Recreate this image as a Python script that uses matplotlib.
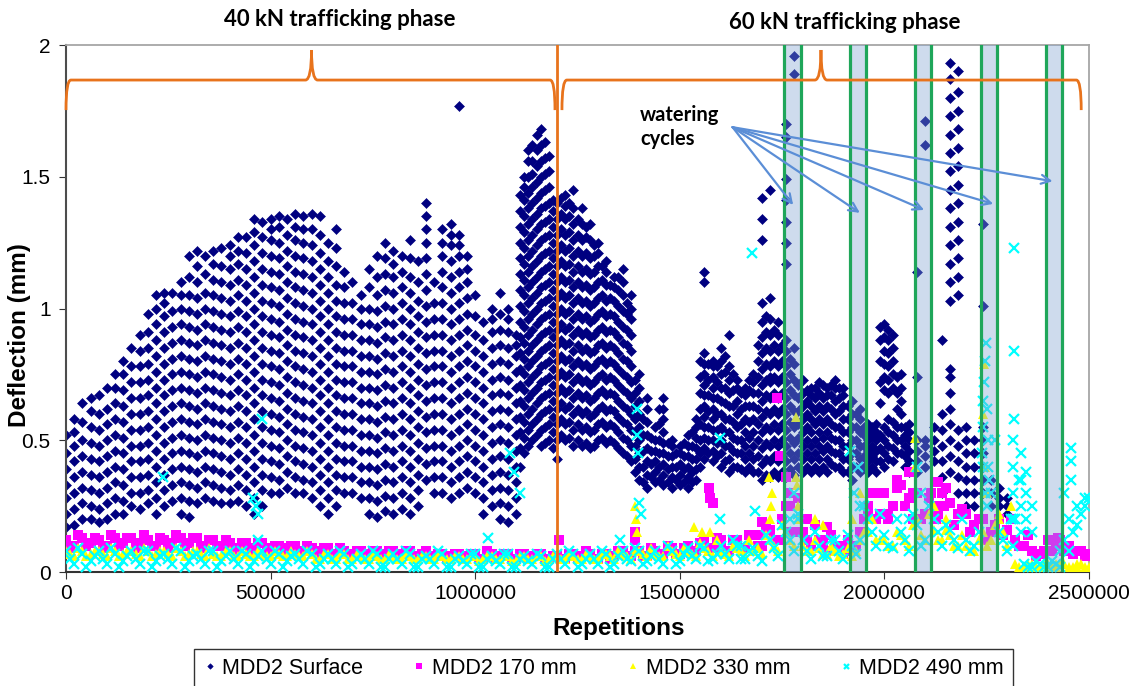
import numpy as np
import matplotlib
matplotlib.use("Agg")
import matplotlib.pyplot as plt
from matplotlib.path import Path
from matplotlib.patches import PathPatch

# repetitions in thousands, deflections in hundredths of a mm
surface_x = list(range(0, 2320, 20))
surface_cols = [
    [17,22,28,33,39,45,52],
    [18,24,30,36,42,48,53,58],
    [20,26,32,38,44,50,57,64],
    [20,25,31,37,43,49,55,61,66],
    [19,24,30,36,42,48,54,60,67],
    [20,26,32,38,44,50,56,62,70],
    [22,28,34,40,46,52,58,64,70,75],
    [22,27,33,39,45,51,57,63,69,75,80],
    [25,30,36,42,48,54,60,66,72,78,85],
    [24,30,36,42,48,54,60,66,72,78,84,90],
    [26,31,37,43,49,55,61,67,73,79,85,91,98],
    [22,28,34,40,46,52,58,64,70,76,82,88,94,100,105],
    [25,31,37,43,49,55,61,67,73,79,85,91,97,102,106],
    [27,33,39,45,51,57,63,69,75,81,87,93,99,106],
    [22,28,34,40,46,52,58,64,70,76,82,88,94,100,105,110],
    [21,27,33,39,45,51,57,63,69,75,81,87,93,99,105,112,120],
    [26,32,38,44,50,56,62,68,74,80,86,92,98,104,110,116,122],
    [28,34,40,46,52,58,64,70,76,82,88,94,100,106,113,120],
    [27,33,39,45,51,57,63,69,75,81,87,93,99,105,111,117,122],
    [26,32,38,44,50,56,62,68,74,80,86,92,98,104,110,116,123],
    [26,31,37,43,49,55,61,67,73,79,85,91,97,103,109,115,120,124],
    [27,33,39,45,51,57,63,69,75,81,87,93,99,105,111,117,122,127],
    [25,31,37,43,49,55,61,67,73,79,85,91,97,103,109,115,121,127],
    [22,28,34,40,46,52,58,64,70,76,82,88,94,100,106,112,118,124,129,134],
    [25,31,37,43,49,55,61,67,73,79,85,91,97,103,109,115,121,127,133],
    [30,36,42,48,54,60,66,72,78,84,90,96,102,108,114,120,126,130,134],
    [30,35,41,47,53,59,65,71,77,83,89,95,101,107,113,119,125,131,135],
    [32,38,44,50,56,62,68,74,80,86,92,98,104,110,116,122,128,134],
    [30,36,42,48,54,60,66,72,78,84,90,96,102,108,114,120,126,131,136],
    [30,35,41,47,53,59,65,71,77,83,89,95,101,107,113,119,125,130,135],
    [28,34,40,46,52,58,64,70,76,82,88,94,100,106,112,118,124,130,136],
    [25,31,37,43,49,55,61,67,73,79,85,91,97,103,109,115,121,128,135],
    [22,28,34,40,46,52,58,64,70,76,82,88,94,100,106,112,118,125],
    [25,31,37,43,49,55,61,67,73,79,85,91,97,103,109,116,123,130],
    [30,36,42,48,54,60,66,72,78,84,90,96,102,108,114],
    [30,36,42,48,54,60,66,72,78,84,90,96,102,110],
    [28,34,40,46,52,58,64,70,76,82,88,94,100,105],
    [22,28,34,40,46,52,58,64,70,76,82,88,94,100,108,115],
    [21,27,33,39,45,51,57,63,69,75,81,87,93,99,105,112,120],
    [23,29,35,41,47,53,59,65,71,77,83,89,95,101,107,113,119,125],
    [22,28,34,40,46,52,58,64,70,76,82,88,94,100,106,112,117,122],
    [24,30,36,42,48,54,60,66,72,78,84,90,96,102,108,114,120],
    [22,28,34,40,46,52,58,64,70,76,82,88,94,100,106,112,119,126],
    [25,31,37,43,49,55,61,67,73,79,85,91,97,103,110,118],
    [35,41,47,53,59,65,71,77,83,89,95,101,107,113,119,125,130,135,140],
    [30,36,42,48,54,60,66,72,78,84,90,96,102,110],
    [30,36,42,48,54,60,66,72,78,84,90,96,102,108,114,120,125,130],
    [28,34,40,46,52,58,64,70,76,82,88,94,100,106,112,118,124,128,132],
    [30,36,42,48,54,60,66,72,78,84,90,96,102,108,114,120,124,128,177],
    [32,38,44,50,56,62,68,74,80,86,92,98,104,110,115,120],
    [30,36,42,48,54,60,66,72,78,84,90,97,105],
    [22,28,34,40,46,52,58,64,70,76,82,88,95],
    [25,31,37,43,49,55,61,67,73,79,85,91,96,100],
    [20,26,32,38,44,50,56,62,68,74,80,86,92,98,106],
    [19,25,31,37,43,49,55,61,67,73,79,85,91,96,100],
    [22,28,34,40,46,52,58,64,70,76,82,86,90],
    [45,51,57,63,69,75,81,87,93,99,105,111,117,123,129,135,141,146,150],
    [50,56,62,68,74,80,86,92,98,104,110,116,122,128,134,140,146,151,156,162],
    [48,54,60,66,72,78,84,90,96,102,108,114,120,126,132,138,144,150,156,162,168],
    [50,56,62,68,74,80,86,92,98,104,110,116,122,128,134,140,146,152,158],
    [43,50,56,62,68,74,80,86,92,98,104,110,116,122,128,134,140],
    [50,56,62,68,74,80,86,92,98,104,110,116,122,128,134,139,143],
    [48,54,60,66,72,78,84,90,96,102,108,114,120,126,132,138,145],
    [48,54,60,66,72,78,84,90,96,102,108,114,120,126,132,138],
    [47,53,59,65,71,77,83,89,95,101,107,113,119,126,132],
    [50,56,62,68,74,80,86,92,98,104,110,116,121,125],
    [49,55,61,67,73,79,85,91,97,103,109,114,118],
    [49,55,61,67,73,79,85,91,97,103,108,112],
    [45,51,57,63,69,75,81,87,93,99,105,110,115],
    [42,48,54,60,66,72,78,84,90,96,100,105],
    [35,40,45,50,55,60,65,70,75],
    [32,37,42,47,52,57,62,66],
    [34,38,42,46,50,55],
    [33,37,41,45,49,53,58,62,66],
    [32,36,40,44,48,50],
    [33,37,41,45,48],
    [32,36,40,44,48,52],
    [35,39,43,47,51,55,58],
    [43,47,51,55,59,63,67,71,75,79,83,110,114],
    [42,46,50,54,58,62,66,70,74,78,80],
    [40,45,50,55,60,65,70,75,80,85],
    [38,43,48,53,58,63,68,73,78,90],
    [40,45,50,55,60,65,70,73],
    [38,43,48,53,58,63,67,70],
    [38,43,48,53,58,63,68,72,75],
    [35,41,47,53,59,65,71,77,83,89,95,102,126,134,142],
    [36,42,48,54,60,66,72,74,78,84,90,96,104,145],
    [36,42,48,54,60,66,72,78,84,90,95],
    [36,42,48,54,60,66,72,78,84,88,117,125,133,141,149,165,170],
    [37,43,49,55,61,67,73,79,85,189,196],
    [38,43,48,53,58,63,68,73],
    [38,43,48,53,58,63,67,70],
    [38,43,48,53,58,63,68,72],
    [38,43,48,53,58,63,67,70],
    [40,45,50,55,60,65,70,73],
    [38,43,48,53,58,63,67,70],
    [35,40,45,50,55,60,65],
    [38,43,48,53,58,62],
    [38,42,46,50,53,56],
    [38,42,46,50,53,56],
    [40,45,50,55,69,74,79,84,89,94],
    [42,47,52,57,70,75,80,85,90],
    [45,50,55,60,65,70,75],
    [38,42,46,50,53,56],
    [38,42,46,50,74,114],
    [40,44,48,50,162,171],
    [42,46,50,55],
    [30,36,42,48,54,60,88],
    [38,44,50,56,62,68,74,77,103,110,117,124,131,138,145,152,159,166,173,180,187,193],
    [30,36,42,48,54,105,112,119,126,133,140,147,154,161,168,175,182,190],
    [25,30,35,40,45,50,55],
    [25,30,35,40,45,50],
    [30,35,40,45,50,55,101,132],
    [25,30,35],
    [25,28,32],
    [22,25,28],
]

# extra surface readings in the densest stretch (60 kN phase)
surface_x2 = list(range(1110, 2070, 20))
surface_cols2 = [
    [40,47,53,59,65,71,77,83,89,95,101,107,113,119,125,131,137,143],
    [48,54,60,66,72,78,84,90,96,102,108,114,120,126,132,138,144,150,156,160],
    [52,58,64,70,76,82,88,94,100,106,112,118,124,130,136,142,148,154,160,166],
    [49,55,61,67,73,79,85,91,97,103,109,115,121,127,133,139,145,151,157,163],
    [47,53,59,65,71,77,83,89,95,101,107,113,119,125,131,137,141],
    [52,58,64,70,76,82,88,94,100,106,112,118,124,130,136,142],
    [51,57,63,69,75,81,87,93,99,105,111,117,123,129,135,140],
    [50,56,62,68,74,80,86,92,98,104,110,116,122,128,134],
    [49,55,61,67,73,79,85,91,97,103,109,115,121,127,131],
    [48,54,60,66,72,78,84,90,96,102,108,114,120,124],
    [51,57,63,69,75,81,87,93,99,105,111,116],
    [50,56,62,68,74,80,86,92,98,104,109],
    [47,53,59,65,71,77,83,89,95,101,107,112],
    [44,50,56,62,68,74,80,86,92,98,102],
    [38,43,48,53,58,63,68,73],
    [34,40,46,52,58],
    [36,41,46,51],
    [35,40,45,50,56,62],
    [34,39,44,49],
    [35,40,45],
    [34,39,44,49],
    [34,38,43,48,53],
    [40,45,50,56,62,68,74,80],
    [45,50,55,61,67,73,79],
    [44,49,54,60,66,72,78],
    [42,48,53,58,64,70,76,82],
    [40,46,51,57,63,69,75],
    [39,45,50,56,62,68],
    [40,45,51,57,63,69,73],
    [38,44,50,56,62,68,74,80,86],
    [37,43,49,55,61,67,73,79,85,91,97],
    [38,44,50,56,62,68,74,80,86,92],
    [38,44,50,56,62,68,74,80,86],
    [39,45,51,57,63,69,75,81],
    [40,45,51,56,61,66,71],
    [40,45,50,55,60,65,69],
    [40,45,50,56,61,66,70],
    [40,46,51,56,61,66,71],
    [41,46,51,56,62,67,71],
    [40,45,50,55,61,66,70],
    [38,43,48,53,58,63],
    [40,45,50,55,60],
    [40,44,48,52,55],
    [40,44,48,52,55],
    [42,47,52,64,72,80,88,93],
    [43,48,53,58,68,73,78,83,88,92],
    [45,50,55,62,68,74],
    [40,44,48,52,55],
]

# buried gauges: readings every 20k (a) and in between (b)
depth_xa = list(range(0, 2520, 20))
depth_xb = list(range(10, 2500, 20))
mdd170_a = [12,10,13,11,12,10,13,11,13,11, 12,10,12,11,13,11,13,10,12,10,
            11,9,11,9,11,9,10,9,10,8, 9,8,9,7,8,7,8,7,8,7,
            8,7,8,6,8,6,7,6,7,6, 7,5,7,6,7,5,7,6,7,5,
            6,5,7,6,7,5,7,6,8,6, 8,6,8,7,9,7,10,8,12,9,
            10,8,12,9,14,10,16,12,25,15, 15,10,12,8,10,7,8,15,25,20,
            30,25,33,28,30,22,25,30,26,22, 22,18,20,15,20,16,12,10,8,7,
            12,10,8,7,8,7]
mdd170_b = [9,14,10,13,9,14,10,13,9,14, 10,13,9,14,10,13,9,12,10,12,
            8,11,8,11,8,10,8,10,7,10, 7,9,7,9,7,8,6,8,6,8,
            6,8,6,7,6,7,5,7,5,7, 5,7,5,7,5,7,5,7,5,6,
            5,7,5,8,5,7,5,8,6,8, 6,9,6,10,7,9,8,11,9,13,
            8,12,9,14,10,18,12,20,15,28, 12,18,10,14,8,12,10,20,30,22,
            22,32,25,30,20,28,22,32,18,24, 15,20,12,18,14,20,10,14,6,8,
            8,12,10,8,6]
mdd330_a = [8,6,8,7,8,6,8,7,8,6, 8,7,8,6,8,7,8,6,7,6,
            8,6,7,6,7,6,7,6,7,6, 7,5,7,5,7,5,6,5,6,5,
            6,5,6,5,6,5,6,5,6,5, 6,5,6,5,6,4,6,5,6,5,
            6,5,6,5,6,5,7,5,7,5, 8,6,7,6,8,6,8,6,9,6,
            8,6,9,6,8,7,12,8,15,10, 10,8,9,7,8,7,6,12,15,12,
            12,10,14,10,20,12,16,12,14,10, 10,8,15,12,20,10,3,2,3,2,
            3,2,3,2,3,2]
mdd330_b = [7,9,6,8,7,9,6,8,7,9, 6,8,7,9,6,8,7,9,6,8,
            6,8,6,8,6,8,6,8,6,8, 5,7,5,7,5,7,5,7,5,7,
            5,7,5,6,5,7,5,6,5,6, 4,6,5,6,4,6,5,6,4,6,
            5,7,5,7,5,7,6,8,6,8, 7,9,6,10,7,9,7,11,8,12,
            7,10,8,12,9,14,10,18,12,20, 8,12,7,10,6,9,8,15,20,12,
            10,15,12,18,14,22,12,16,10,14, 8,12,10,18,15,25,2,3,2,3,
            2,3,2,3,2]
mdd490_a = [8,3,7,4,8,3,7,4,8,3, 8,4,7,3,8,4,7,3,8,4,
            8,3,7,4,8,3,7,4,7,3, 7,3,7,3,7,3,7,3,7,2,
            7,3,7,2,6,3,7,2,6,3, 7,2,6,3,7,2,6,3,6,2,
            7,3,7,3,7,3,7,3,8,4, 8,4,8,3,8,4,9,5,9,5,
            10,5,10,5,9,4,12,6,15,8, 12,5,10,6,12,5,10,12,20,10,
            14,9,15,8,18,12,20,10,16,9, 12,10,40,30,15,8,20,3,2,3,
            2,3,12,15,22,28]
mdd490_b = [5,9,2,6,5,9,2,6,5,8, 2,6,5,9,2,6,5,8,2,6,
            5,8,2,6,5,8,2,6,5,8, 2,5,5,8,2,5,5,8,2,5,
            5,8,2,5,5,8,2,5,4,7, 2,5,4,7,2,5,4,7,2,5,
            5,8,2,5,5,8,2,6,5,9, 3,6,5,10,3,7,6,10,4,7,
            7,12,5,8,6,14,9,18,12,20, 8,15,6,12,8,14,7,25,15,22,
            10,20,12,22,10,25,15,18,12,20, 8,15,25,50,12,20,35,2,4,2,
            4,2,8,18,25]

# isolated readings (x in thousands, y in hundredths)
mdd170_px = [1205,1030,1390,1390,1572,1575,1580,1600,1700,1702,1738,1745,1760,1765,1770,
             1810,1850,1860,1900,1960,1990,2010,2030,2050,2060,2070,2115,2125,2130,2145,2410,2425]
mdd170_py = [12,8,15,12,32,28,26,12,19,14,66,44,36,30,25,
             20,12,17,10,22,30,20,35,25,38,20,30,20,34,25,12,13]
mdd330_px = [1390,1392,1395,1535,1555,1575,1717,1720,1722,1725,1783,1785,1787,1790,1830,1850,
             1920,1940,2074,2076,2120,2150,2240,2243,2245,2250,2280,2350,2420,2470]
mdd330_py = [25,20,15,17,15,15,36,20,25,30,36,59,33,25,20,18,
             20,30,51,40,25,20,60,79,40,30,22,2,3,2]
mdd490_px = [237,457,465,470,470,479,1031,1085,1095,1110,1354,1396,1396,1398,1400,1405,1598,1598,
             1650,1677,1684,1770,1780,1790,1916,1925,1935,1940,2060,2080,2090,
             2238,2240,2242,2244,2246,2248,2250,2252,2254,2256,2245,2250,
             2315,2315,2315,2315,2315,2316,2317,2317,2335,2335,2335,2335,2345,2345,2345,2360,2360,
             2430,2440,2450,2455,2455,2455,2470,2490]
mdd490_py = [36,28,25,22,12,58,13,45,38,30,12,62,52,45,26,22,51,20,
             10,121,23,20,30,22,46,30,40,25,20,40,30,
             45,55,65,72,80,87,62,50,40,35,30,25,
             10,20,30,40,50,58,84,123,15,25,35,45,20,30,38,15,25,
             8,30,20,35,42,47,25,28]

assert len(surface_x) == len(surface_cols)
assert len(surface_x2) == len(surface_cols2)
assert len(depth_xa) == len(mdd170_a) == len(mdd330_a) == len(mdd490_a)
assert len(depth_xb) == len(mdd170_b) == len(mdd330_b) == len(mdd490_b)

band_starts = [1755000, 1915000, 2075000, 2235000, 2395000]
band_ends = [1795000, 1955000, 2115000, 2275000, 2435000]
phase_change = 1200000

sx, sy = [], []
for xs, cols in [(surface_x, surface_cols), (surface_x2, surface_cols2)]:
    for x, col in zip(xs, cols):
        for v in col:
            sx.append(x * 1000)
            sy.append(v / 100)


def series(a, b, px, py):
    x = np.r_[depth_xa, depth_xb, px] * 1000.0
    y = np.r_[a, b, py] / 100.0
    return x, y


plt.rcParams['font.family'] = ['Liberation Sans', 'DejaVu Sans']
fig = plt.figure(figsize=(11.35, 6.86), dpi=100)
ax = fig.add_axes([66 / 1135, 1 - 572 / 686, 1023 / 1135, 527 / 686])

ax.plot(sx, sy, 'D', color='#000080', ms=5.6, mew=0.4, ls='none', label='MDD2 Surface', zorder=2)
x, y = series(mdd170_a, mdd170_b, mdd170_px, mdd170_py)
ax.plot(x, y, 's', color='#ff00ff', ms=7.4, mew=0, ls='none', label='MDD2 170 mm', zorder=3)
x, y = series(mdd330_a, mdd330_b, mdd330_px, mdd330_py)
ax.plot(x, y, '^', color='#ffff00', ms=7.4, mew=0, ls='none', label='MDD2 330 mm', zorder=4)
x, y = series(mdd490_a, mdd490_b, mdd490_px, mdd490_py)
ax.plot(x, y, 'x', color='#00ffff', ms=7.2, mew=1.6, ls='none', label='MDD2 490 mm', zorder=5)

# watering cycles
for a, b in zip(band_starts, band_ends):
    ax.axvspan(a, b, color='#7fa2d2', alpha=0.38, lw=0, zorder=6)
    ax.axvline(a, color='#1fa65a', lw=2.3, zorder=7)
    ax.axvline(b, color='#1fa65a', lw=2.3, zorder=7)

ax.axvline(phase_change, color='#e8731c', lw=2, zorder=8)


def brace(x0, x1, xt, yl, ye, yt, dx, tw):
    verts = [(x0, ye), (x0, yl), (x0 + dx, yl), (xt - tw, yl), (xt, yl), (xt, yt),
             (xt, yl), (xt + tw, yl), (x1 - dx, yl), (x1, yl), (x1, ye)]
    codes = [Path.MOVETO, Path.CURVE3, Path.CURVE3, Path.LINETO, Path.CURVE3, Path.CURVE3,
             Path.CURVE3, Path.CURVE3, Path.LINETO, Path.CURVE3, Path.CURVE3]
    ax.add_patch(PathPatch(Path(verts, codes), fc='none', ec='#e8731c', lw=2,
                           clip_on=False, zorder=9))


brace(0, 1195000, 600000, 1.867, 1.753, 1.981, 12000, 15000)
brace(1212000, 2481000, 1845000, 1.867, 1.753, 1.981, 12000, 15000)

cal = ['Lato', 'DejaVu Sans']
ax.text(670000, 2.095, '40 kN trafficking phase', ha='center', va='center',
        fontsize=16, fontweight='bold', family=cal)
ax.text(1904000, 2.087, '60 kN trafficking phase', ha='center', va='center',
        fontsize=16, fontweight='bold', family=cal)
ax.text(1403000, 1.69, 'watering\ncycles', ha='left', va='center', linespacing=1.25,
        fontsize=14.5, fontweight='bold', family=cal, zorder=10)

tips = [(1777000, 1.393), (1940000, 1.363), (2097000, 1.374), (2266000, 1.397), (2411000, 1.483)]
for tx, ty in tips:
    ax.annotate('', xy=(tx, ty), xytext=(1629000, 1.688),
                arrowprops=dict(arrowstyle='->', color='#5b8ed6', lw=1.6,
                                mutation_scale=16, shrinkA=0, shrinkB=0), zorder=10)

ax.set_xlim(0, 2500000)
ax.set_ylim(0, 2)
ax.set_xticks([0, 500000, 1000000, 1500000, 2000000, 2500000])
ax.set_xticklabels(['0', '500000', '1000000', '1500000', '2000000', '2500000'])
ax.set_yticks([0, 0.5, 1, 1.5, 2])
ax.set_yticklabels(['0', '0.5', '1', '1.5', '2'])
ax.tick_params(direction='out', length=5, labelsize=15, colors='#333333', labelcolor='black')
ax.tick_params(axis='y', pad=6)
ax.set_xlabel('Repetitions', fontsize=17.5, fontweight='bold')
ax.set_ylabel('Deflection (mm)', fontsize=17.5, fontweight='bold')
ax.xaxis.set_label_coords(0.54, -0.107)
ax.yaxis.set_label_coords(-0.045, 0.45)
ax.xaxis.label.set_va('center')
ax.yaxis.label.set_va('center')
for s in ['top', 'right']:
    ax.spines[s].set_color('#a6a6a6')
    ax.spines[s].set_linewidth(1.3)
ax.spines['left'].set_color('#4d4d4d')
ax.spines['bottom'].set_color('#333333')
ax.spines['left'].set_linewidth(1.5)
ax.spines['bottom'].set_linewidth(1.5)

fig.legend(loc='upper center', bbox_to_anchor=(603.5 / 1135, 1 - 649 / 686), ncol=4,
           fontsize=15.5, markerscale=0.5, handlelength=0.6, handletextpad=0.3,
           columnspacing=2.3, frameon=True, fancybox=False, edgecolor='black',
           borderpad=0.4, borderaxespad=0)

fig.savefig('out.png', dpi=100)
